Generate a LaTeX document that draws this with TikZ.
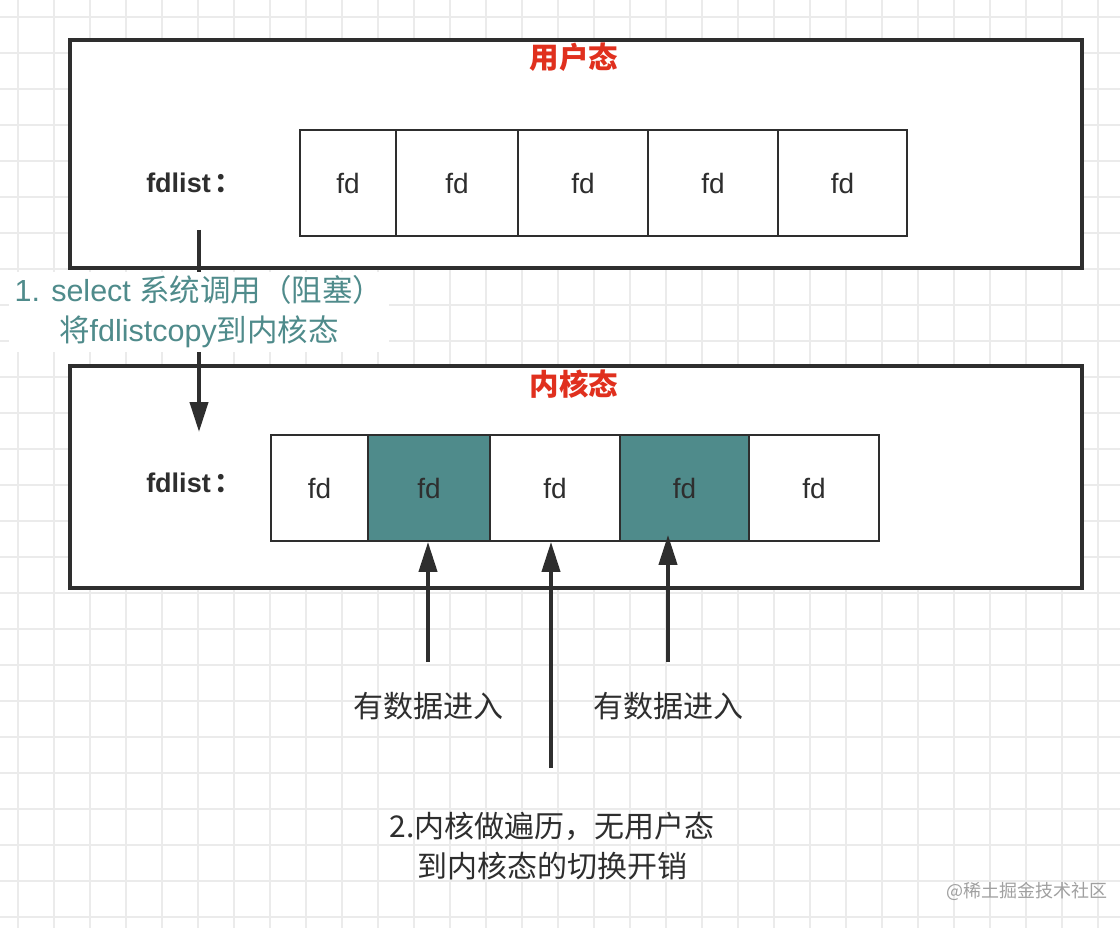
\documentclass[tikz,border=0pt]{standalone}
\usepackage{fontspec}
\setmainfont{Liberation Sans}
\newfontfamily\cjk{Noto Sans CJK SC}
\usetikzlibrary{arrows.meta}
\definecolor{ink}{HTML}{2E2E2E}
\definecolor{tealt}{HTML}{4F8B8B}
\definecolor{redt}{HTML}{E0301E}
\definecolor{gridc}{HTML}{EBEBEB}
\definecolor{wm}{HTML}{A0A0A0}
\tikzset{
  outer/.style={draw=ink, line width=4pt, inner sep=0pt, anchor=north west},
  cell/.style={draw=ink, line width=1.8pt, inner sep=0pt, minimum height=106pt, text=ink, font=\fontsize{28}{32}\selectfont},
  hot/.style={cell, fill=tealt},
  title/.style={text=redt, font=\cjk\bfseries\fontsize{29.5}{34}\selectfont},
  lbl/.style={text=ink, font=\bfseries\fontsize{27}{32}\selectfont},
  txt/.style={text=ink, align=center, font=\fontsize{30.5}{40}\selectfont},
  arr/.style={draw=ink, line width=4pt, -{Triangle[width=18pt,length=30pt]}},
}
\begin{document}
\begin{tikzpicture}[x=1pt,y=-1pt]
\fill[white] (0,0) rectangle (1120,928);
\useasboundingbox (0,0) rectangle (1120,928);
\foreach \gx in {18,54,...,1120} \draw[gridc, line width=1.5pt] (\gx,0) -- (\gx,928);
\foreach \gy in {17,53,...,928} \draw[gridc, line width=1.5pt] (0,\gy) -- (1120,\gy);

% user space
\node[outer, fill=white, minimum width=1012pt, minimum height=228pt] (user) at (68,38) {};
\node[title] (ut) at (574,57) {用户态};
\node[lbl] (ul) at (194,183) {fdlist\kern4pt{\cjk ：}};
\node[cell, minimum width=96pt] (u1) at (348,183) {fd};
\node[cell, minimum width=122pt] (u2) at (457,183) {fd};
\node[cell, minimum width=130pt] (u3) at (583,183) {fd};
\node[cell, minimum width=130pt] (u4) at (713,183) {fd};
\node[cell, minimum width=129pt] (u5) at (842.5,183) {fd};

% kernel space
\node[outer, fill=white, minimum width=1012pt, minimum height=222pt] (kern) at (68,364) {};
\node[title] (kt) at (574,384) {内核态};
\node[lbl] (kl) at (194,483) {fdlist\kern4pt{\cjk ：}};
\node[cell, minimum width=97pt] (k1) at (319.5,488) {fd};
\node[hot, minimum width=122pt] (k2) at (429,488) {fd};
\node[cell, minimum width=130pt] (k3) at (555,488) {fd};
\node[hot, minimum width=129pt] (k4) at (684.5,488) {fd};
\node[cell, minimum width=130pt] (k5) at (814,488) {fd};

% select call
\coordinate (c0) at (199,230);
\coordinate (c1) at (199,432);
\draw[arr] (c0) -- (c1);
\node[txt, text=tealt, fill=white, inner xsep=6pt, inner ysep=4pt] (sel) at (199,312) {1. select {\cjk 系统调用（阻塞）}\\{\cjk 将}fdlistcopy{\cjk 到内核态}};

% data arrivals
\coordinate (a1) at (428,662);
\coordinate (a2) at (551,768);
\coordinate (a3) at (668,662);
\draw[arr] (a1) -- (a1 |- k2.south);
\draw[arr] (a2) -- (a2 |- k3.south);
\draw[arr] (a3) -- ([yshift=7pt]a3 |- k4.south);
\node[txt, font=\cjk\fontsize{30}{40}\selectfont] (d1) at (428,706) {有数据进入};
\node[txt, font=\cjk\fontsize{30}{40}\selectfont] (d2) at (668,706) {有数据进入};
\node[txt, font=\cjk\fontsize{30}{40}\selectfont] (note) at (552,846) {2.内核做遍历，无用户态\\到内核态的切换开销};

\node[text=wm, font=\cjk\fontsize{18}{20}\selectfont] (wmk) at (1027,891) {@稀土掘金技术社区};
\end{tikzpicture}
\end{document}
